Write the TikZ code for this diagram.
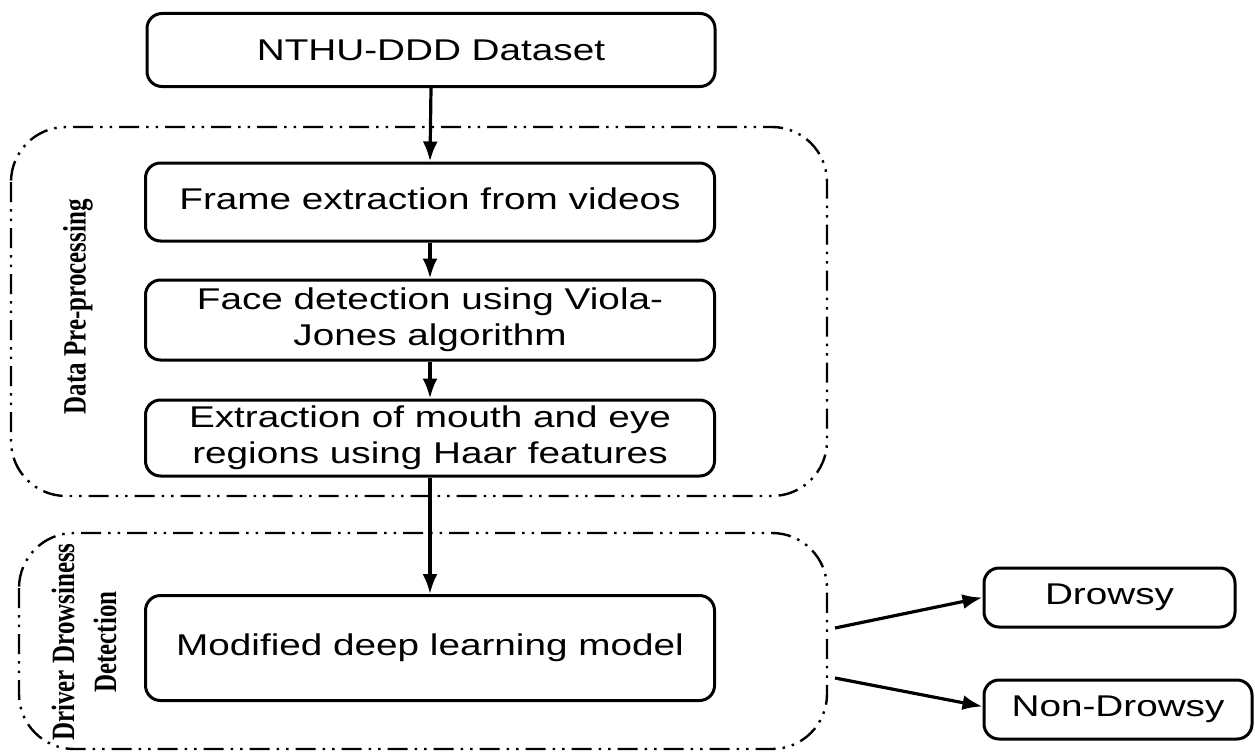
\documentclass[tikz,border=0pt]{standalone}
\usepackage{fontspec}
\usepackage{graphicx}
\usetikzlibrary{arrows.meta}
\newfontfamily\arialf{Liberation Sans}
\newfontfamily\timesf{Liberation Serif}
\newcommand{\hs}[1]{\scalebox{1.29}[1]{\begin{tabular}{@{}c@{}}#1\end{tabular}}}
\newcommand{\vs}[1]{\scalebox{1}[1.3]{#1}}
\tikzset{
  procbox/.style={draw=black, line width=3pt, rounded corners=15pt, fill=white,
    inner sep=0pt, font=\arialf\fontsize{30}{36}\selectfont},
  grp/.style={draw=black, line width=2.4pt, rounded corners=55pt,
    dash pattern=on 20pt off 7pt on 2.5pt off 7pt on 2.5pt off 7pt},
  flow/.style={line width=3.2pt, -{Latex[length=20pt,width=15pt]}},
  sidelabel/.style={font=\timesf\bfseries\fontsize{25}{28}\selectfont, rotate=90, inner sep=0pt}
}
\begin{document}
\begin{tikzpicture}[x=1pt,y=-1pt]
\useasboundingbox (0,0) rectangle (1255,752);
% groups
\draw[grp] (11,127) rectangle (827,496);
\draw[grp] (19,533) rectangle (827,749);
% labels
\node[sidelabel] (lab1) at (78,307) {\vs{Data Pre-processing}};
\node[sidelabel] (lab2) at (63,642) {\vs{Driver Drowsiness}};
\node[sidelabel] (lab3) at (105,642) {\vs{Detection}};
% boxes
\node[procbox, minimum width=568pt, minimum height=73pt] (ds) at (431,50) {\scalebox{1.29}[1]{NTHU-DDD Dataset}};
\node[procbox, minimum width=569pt, minimum height=78pt] (fe) at (430,202) {\hs{Frame extraction from videos}};
\node[procbox, minimum width=569pt, minimum height=80pt] (fd) at (430,320) {\hs{Face detection using Viola-\\Jones algorithm}};
\node[procbox, minimum width=569pt, minimum height=76pt] (ex) at (430,438) {\hs{Extraction of mouth and eye\\regions using Haar features}};
\node[procbox, minimum width=569pt, minimum height=105pt] (md) at (430,648) {\hs{Modified deep learning model}};
\node[procbox, minimum width=251pt, minimum height=59pt] (dr) at (1109.5,597.5) {\hs{Drowsy}};
\node[procbox, minimum width=268pt, minimum height=59pt] (nd) at (1118,709.5) {\hs{Non-Drowsy}};
% connectors
\draw[flow] (ds.south) -- (fe.north);
\draw[flow] (fe.south) -- (fd.north);
\draw[flow] (fd.south) -- (ex.north);
\draw[flow] (ex.south) -- (md.north);
\coordinate (o1) at (835,628);
\coordinate (o2) at (835,678);
\draw[flow] (o1) -- (dr.west);
\draw[flow] (o2) -- ([yshift=3pt]nd.west);
\end{tikzpicture}
\end{document}
